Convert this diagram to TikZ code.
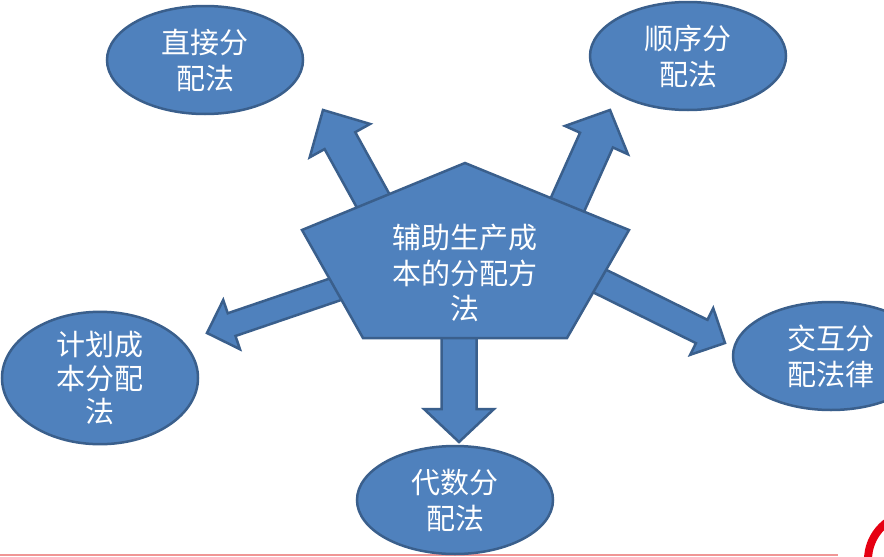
\documentclass[tikz,border=0pt]{standalone}
\usepackage{fontspec}
\setmainfont{Noto Sans CJK SC}
\usetikzlibrary{shapes.geometric}
\definecolor{bfill}{RGB}{79,129,189}
\definecolor{bline}{RGB}{58,95,140}
\definecolor{redline}{RGB}{240,150,150}
\definecolor{redring}{RGB}{230,0,18}
\tikzset{
  shapeline/.style={fill=bfill, draw=bline, line width=2.5pt, line join=miter},
  oval/.style={ellipse, shapeline, minimum width=196, minimum height=108, inner sep=0pt,
    text=white, align=center, font=\fontsize{29}{36}\selectfont},
  hubtext/.style={text=white, align=center, inner sep=0pt, font=\fontsize{29}{35.5}\selectfont}
}
% tip x, tip y, angle, head length, head half width, shaft half width, total length
\newcommand\myblockarrow[7]{%
  \draw[shapeline, shift={(#1,#2)}, rotate=#3]
    (0,0) -- (-#4,#5) -- (-#4,#6) -- (-#7,#6) -- (-#7,-#6) -- (-#4,-#6) -- (-#4,-#5) -- cycle;}
\begin{document}
\begin{tikzpicture}[x=1pt,y=-1pt]
\useasboundingbox (0,0) rectangle (884,557);
\clip (0,0) rectangle (884,557);
\fill[white] (0,0) rectangle (884,557);

% bottom decoration
\draw[redline, line width=2pt] (0,555) -- (838,555);
\draw[redring, line width=8pt] (915,560) circle[radius=47];

% block arrows (behind the pentagon)
\myblockarrow{323}{110}{118.9}{35}{34.5}{17.5}{120}
\myblockarrow{610}{110}{65.8}{33}{34.5}{18}{120}
\myblockarrow{207}{333}{198.8}{26}{26}{12}{150}
\myblockarrow{725}{343}{-26.3}{26}{26}{13}{150}
\myblockarrow{459}{442}{-90}{33}{35}{17.5}{140}

% central pentagon
\draw[shapeline] (465,163) -- (629,230) -- (567,338) -- (363,338) -- (302,230) -- cycle;
\node[hubtext] (hub) at (465,273) {辅助生产成\\本的分配方\\法};

% outer ellipses
\node[oval] (direct) at (205,60) {直接分\\配法};
\node[oval] (seq) at (688,56) {顺序分\\配法};
\node[oval, font=\fontsize{29}{33.5}\selectfont] (plan) at (100,378) {计划成\\本分配\\法};
\node[oval] (mutual) at (831,356) {交互分\\配法律};
\node[oval] (alg) at (455,500) {代数分\\配法};
\end{tikzpicture}
\end{document}
